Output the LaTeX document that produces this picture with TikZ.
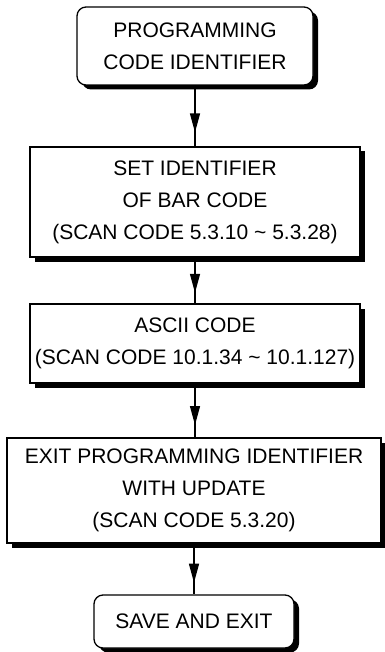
\documentclass[tikz,border=0pt]{standalone}
\usepackage{fontspec}
\setmainfont{Liberation Sans}
\usetikzlibrary{shadows,arrows.meta,decorations.markings}

\tikzset{
  stepbox/.style={draw=black,line width=1.3pt,fill=white,align=center,
    font=\fontsize{21}{32}\selectfont,inner sep=0pt,
    drop shadow={shadow xshift=5pt,shadow yshift=-4.5pt,fill=black,opacity=1}},
  endbox/.style={stepbox,rounded corners=9pt},
  flowline/.style={line width=1.3pt,postaction={decorate},
    decoration={markings,mark=at position 0.77 with {\arrow{Triangle[width=10pt,length=19pt]}}}}
}

\begin{document}
\begin{tikzpicture}[x=1pt,y=1pt]
\useasboundingbox (0,0) rectangle (384,-652);
\node[endbox,minimum width=236pt,minimum height=78pt] (prog) at (195,-46) {PROGRAMMING\\CODE IDENTIFIER};
\node[stepbox,minimum width=330pt,minimum height=110pt] (setid) at (195,-202) {SET IDENTIFIER\\OF BAR CODE\\(SCAN CODE 5.3.10 \char`\~{} 5.3.28)};
\node[stepbox,minimum width=330pt,minimum height=79pt] (ascii) at (195,-343.5) {ASCII CODE\\(SCAN CODE 10.1.34 \char`\~{} 10.1.127)};
\node[stepbox,minimum width=374pt,minimum height=105pt] (exitid) at (194,-490.5) {EXIT PROGRAMMING IDENTIFIER\\WITH UPDATE\\(SCAN CODE 5.3.20)};
\node[endbox,minimum width=200pt,minimum height=53pt] (save) at (194,-621.5) {SAVE AND EXIT};

\draw[flowline] (prog.south) -- (prog.south |- setid.north);
\draw[flowline] (setid.south) -- (setid.south |- ascii.north);
\draw[flowline] (ascii.south) -- (ascii.south |- exitid.north);
\draw[flowline] (exitid.south) -- (exitid.south |- save.north);
\end{tikzpicture}
\end{document}
